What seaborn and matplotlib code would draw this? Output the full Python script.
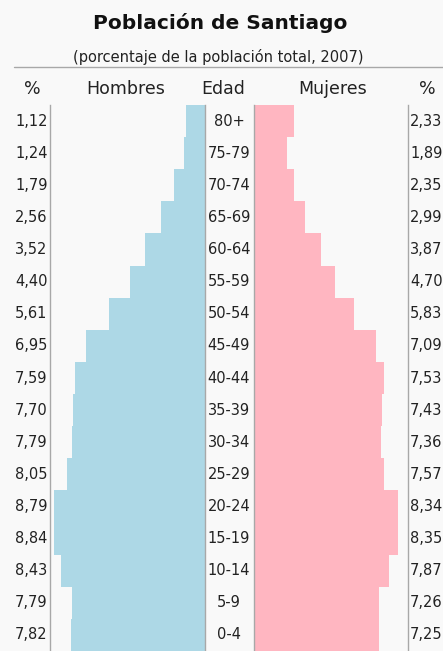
import matplotlib
matplotlib.use("Agg")
import matplotlib.pyplot as plt
import matplotlib.transforms as mtransforms
import seaborn as sns
import pandas as pd

# Santiago population pyramid 2007 (% of total population)
ages = ["80+", "75-79", "70-74", "65-69", "60-64", "55-59", "50-54", "45-49", "40-44",
        "35-39", "30-34", "25-29", "20-24", "15-19", "10-14", "5-9", "0-4"]
hombres = [1.12, 1.24, 1.79, 2.56, 3.52, 4.40, 5.61, 6.95, 7.59,
           7.70, 7.79, 8.05, 8.79, 8.84, 8.43, 7.79, 7.82]
mujeres = [2.33, 1.89, 2.35, 2.99, 3.87, 4.70, 5.83, 7.09, 7.53,
           7.43, 7.36, 7.57, 8.34, 8.35, 7.87, 7.26, 7.25]

df = pd.DataFrame({"Edad": ages, "Hombres": hombres, "Mujeres": mujeres})

sns.set_style("white")
plt.rcParams["font.family"] = ["DejaVu Sans"]

W, H = 443, 651
bg = "#f9f9f9"
txt = "#222222"
fig = plt.figure(figsize=(W / 100, H / 100), dpi=100, facecolor=bg)

def px_axes(left, right, top, bottom):
    return fig.add_axes([left / W, 1 - bottom / H, (right - left) / W, (bottom - top) / H])

ax_m = px_axes(50, 205, 105, 651)
ax_f = px_axes(254, 408, 105, 651)

sns.barplot(data=df, x="Hombres", y="Edad", orient="h", color="#add8e6",
            width=1.0, saturation=1, linewidth=0, ax=ax_m)
sns.barplot(data=df, x="Mujeres", y="Edad", orient="h", color="#ffb6c1",
            width=1.0, saturation=1, linewidth=0, ax=ax_f)

for ax in (ax_m, ax_f):
    ax.set_facecolor(bg)
    ax.set_ylim(len(ages) - 0.5, -0.5)
    ax.set_xlabel("")
    ax.set_ylabel("")
    ax.set_xticks([])
    ax.set_yticks([])
    for s in ("top", "bottom"):
        ax.spines[s].set_visible(False)
    for s in ("left", "right"):
        ax.spines[s].set_visible(True)
        ax.spines[s].set_color("#a8a8a8")
        ax.spines[s].set_linewidth(1.0)
ax_m.set_xlim(9.05, 0)
ax_f.set_xlim(0, 8.95)

# row labels
tr = mtransforms.blended_transform_factory(fig.transFigure, ax_m.transData)
for i, (a, h, m) in enumerate(zip(ages, hombres, mujeres)):
    fig.text(15 / W, i, f"{h:.2f}".replace(".", ","), transform=tr, ha="left",
             va="center", fontsize=10.5, color=txt)
    fig.text(229 / W, i, a, transform=tr, ha="center", va="center", fontsize=10.5, color=txt)
    fig.text(410 / W, i, f"{m:.2f}".replace(".", ","), transform=tr, ha="left",
             va="center", fontsize=10.5, color=txt)

# titles and header
fig.text(220 / W, 1 - 29 / H, "Población de Santiago", ha="center", va="baseline",
         fontsize=14.5, fontweight="bold", color="#111111")
fig.text(218 / W, 1 - 62 / H, "(porcentaje de la población total, 2007)", ha="center",
         va="baseline", fontsize=10.5, color=txt)
fig.add_artist(plt.Line2D([14 / W, 1], [1 - 67 / H, 1 - 67 / H], color="#a8a8a8",
                          linewidth=1.0, transform=fig.transFigure))
for x, s in [(32, "%"), (126, "Hombres"), (223, "Edad"), (333, "Mujeres"), (427, "%")]:
    fig.text(x / W, 1 - 94 / H, s, ha="center", va="baseline", fontsize=12.5, color=txt)

fig.savefig("out.png", dpi=100, facecolor=bg)
